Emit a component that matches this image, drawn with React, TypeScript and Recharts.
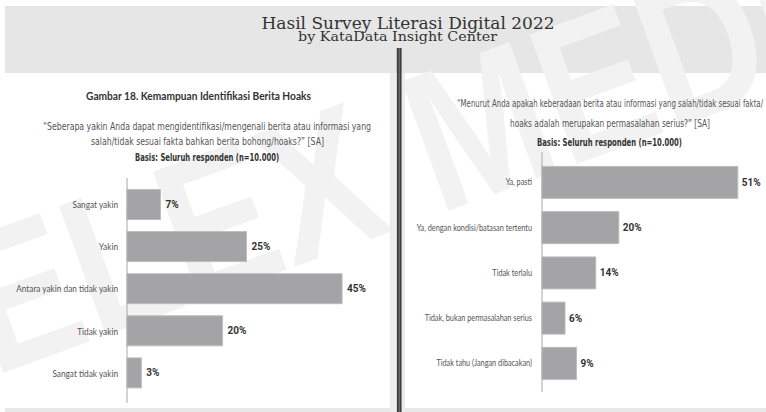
import React from 'react';
import { BarChart, Bar, XAxis, YAxis, LabelList } from 'recharts';

const leftCategories = [
  'Sangat yakin',
  'Yakin',
  'Antara yakin dan tidak yakin',
  'Tidak yakin',
  'Sangat tidak yakin',
];
const leftValues = [7, 25, 45, 20, 3];

const rightCategories = [
  'Ya, pasti',
  'Ya, dengan kondisi/batasan tertentu',
  'Tidak terlalu',
  'Tidak, bukan permasalahan serius',
  'Tidak tahu (Jangan dibacakan)',
];
const rightValues = [51, 20, 14, 6, 9];

const leftData = leftCategories.map((name, i) => ({ name, value: leftValues[i] }));
const rightData = rightCategories.map((name, i) => ({ name, value: rightValues[i] }));

const NARROW = "'Liberation Sans Narrow', 'DejaVu Sans Condensed', Roboto, sans-serif";
const GEO = "Lato, 'Noto Sans', sans-serif";
const SERIF = "'DejaVu Serif', 'Liberation Serif', serif";

const CatTick = (props: any) => {
  const { x, y, payload, sx, fs } = props;
  return (
    <g transform={`translate(${x},${y})`}>
      <text
        transform={`scale(${sx},1)`}
        textAnchor="end"
        dominantBaseline="central"
        fontFamily={GEO}
        fontSize={fs}
        fill="#555555"
      >
        {payload.value}
      </text>
    </g>
  );
};

const makeValueLabel = (off: number) => (props: any) => {
  const { x, y, width, height, value } = props;
  return (
    <text
      x={x + width + off}
      y={y + height / 2}
      dominantBaseline="central"
      fontFamily="Roboto, sans-serif"
      fontWeight={700}
      fontSize={10}
      fill="#333"
    >
      {value}%
    </text>
  );
};

const Background = () => (
  <svg width={766} height={412} style={{ position: 'absolute', left: 0, top: 0 }}>
    <rect x={0} y={0} width={766} height={412} fill="#ffffff" />
    <rect x={5} y={6} width={761} height={67} fill="#e6e6e6" />
    {/* watermark */}
    <text
      x={-7}
      y={376.5}
      textAnchor="start"
      fontFamily="'Liberation Sans', Arial, sans-serif"
      fontWeight={700}
      fontSize={200}
      fill="#f2f2f2"
      textLength={1002}
      lengthAdjust="spacingAndGlyphs"
      transform="rotate(-20 -7 376.5)"
    >
      ELEX MEDIA
    </text>
    {/* panel strips */}
    <rect x={390} y={73} width={6} height={339} fill="#ececec" />
    <rect x={402} y={73} width={3} height={339} fill="#ececec" />
    <rect x={5} y={408} width={385} height={4} fill="#e8e8e8" />
    <rect x={405} y={408} width={361} height={4} fill="#e8e8e8" />
    {/* divider */}
    <rect x={396.8} y={48} width={4.8} height={364} fill="#3e3e3e" />
    <rect x={398.6} y={48} width={1.4} height={364} fill="#6a6a6a" />

    {/* header */}
    <text x={408} y={28.5} textAnchor="middle" fontFamily={SERIF} fontSize={16} fill="#333333"
      textLength={293} lengthAdjust="spacingAndGlyphs">
      Hasil Survey Literasi Digital 2022
    </text>
    <text x={397.5} y={40.5} textAnchor="middle" fontFamily={SERIF} fontSize={12.5} fill="#333333"
      textLength={199} lengthAdjust="spacingAndGlyphs">
      by KataData Insight Center
    </text>

    {/* left panel texts */}
    <text x={198.5} y={100} textAnchor="middle" fontFamily={GEO} fontWeight={700} fontSize={10.6} fill="#333"
      textLength={225} lengthAdjust="spacingAndGlyphs">
      Gambar 18. Kemampuan Identifikasi Berita Hoaks
    </text>
    <text x={207} y={130} textAnchor="middle" fontFamily={NARROW} fontSize={10} fill="#555"
      textLength={328} lengthAdjust="spacingAndGlyphs">
      “Seberapa yakin Anda dapat mengidentifikasi/mengenali berita atau informasi yang
    </text>
    <text x={207.5} y={145} textAnchor="middle" fontFamily={NARROW} fontSize={10} fill="#555"
      textLength={233} lengthAdjust="spacingAndGlyphs">
      salah/tidak sesuai fakta bahkan berita bohong/hoaks?” [SA]
    </text>
    <text x={207} y={161} textAnchor="middle" fontFamily={NARROW} fontWeight={700} fontSize={10} fill="#333"
      textLength={144} lengthAdjust="spacingAndGlyphs">
      Basis: Seluruh responden (n=10.000)
    </text>

    {/* right panel texts */}
    <text x={610} y={107} textAnchor="middle" fontFamily={NARROW} fontSize={10} fill="#555"
      textLength={306} lengthAdjust="spacingAndGlyphs">
      “Menurut Anda apakah keberadaan berita atau informasi yang salah/tidak sesuai fakta/
    </text>
    <text x={610} y={127} textAnchor="middle" fontFamily={NARROW} fontSize={10} fill="#555"
      textLength={200} lengthAdjust="spacingAndGlyphs">
      hoaks adalah merupakan permasalahan serius?” [SA]
    </text>
    <text x={609.5} y={146} textAnchor="middle" fontFamily={NARROW} fontWeight={700} fontSize={10} fill="#333"
      textLength={145} lengthAdjust="spacingAndGlyphs">
      Basis: Seluruh responden (n=10.000)
    </text>
  </svg>
);

export default function App() {
  return (
    <div style={{ position: 'absolute', left: 0, top: 0, width: 766, height: 412, overflow: 'hidden', background: '#fff' }}>
      <Background />
      <div style={{ position: 'absolute', left: 0, top: 0 }}>
        <BarChart
          width={400}
          height={412}
          data={leftData}
          layout="vertical"
          margin={{ top: 178, right: 34, bottom: 9, left: 0 }}
        >
          <XAxis type="number" domain={[0, 50]} hide />
          <YAxis
            type="category"
            dataKey="name"
            width={127}
            axisLine={{ stroke: '#a8a8a8', strokeWidth: 1 }}
            tickLine={false}
            tickSize={6}
            tickMargin={3}
            padding={{ top: 5.5, bottom: 9 }}
            interval={0}
            tick={<CatTick sx={0.88} fs={9.4} />}
          />
          <Bar dataKey="value" fill="#a4a4a7" stroke="#bdbdc0" strokeWidth={1} barSize={30} isAnimationActive={false}>
            <LabelList dataKey="value" content={makeValueLabel(5)} />
          </Bar>
        </BarChart>
      </div>
      <div style={{ position: 'absolute', left: 400, top: 0 }}>
        <BarChart
          width={366}
          height={412}
          data={rightData}
          layout="vertical"
          margin={{ top: 152, right: 12.8, bottom: 20, left: 0 }}
        >
          <XAxis type="number" domain={[0, 55]} hide />
          <YAxis
            type="category"
            dataKey="name"
            width={142}
            axisLine={{ stroke: '#a8a8a8', strokeWidth: 1 }}
            tickLine={false}
            tickSize={6}
            tickMargin={4}
            padding={{ top: 7.4, bottom: 6.4 }}
            interval={0}
            tick={<CatTick sx={0.78} fs={9.4} />}
          />
          <Bar dataKey="value" fill="#a4a4a7" stroke="#bdbdc0" strokeWidth={1} barSize={32} isAnimationActive={false}>
            <LabelList dataKey="value" content={makeValueLabel(4)} />
          </Bar>
        </BarChart>
      </div>
    </div>
  );
}
